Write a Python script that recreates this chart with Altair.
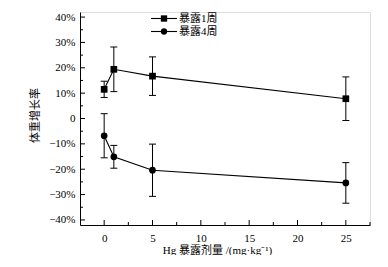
import altair as alt
import pandas as pd

doses = [0, 1, 5, 25]
week1_mean = [11.5, 19.4, 16.7, 7.8]
week1_err = [3.2, 8.8, 7.6, 8.6]
week4_mean = [-6.8, -15.1, -20.4, -25.4]
week4_err = [8.7, 4.5, 10.3, 8.0]
series_names = ["暴露1周", "暴露4周"]
y_ticks = [-40, -30, -20, -10, 0, 10, 20, 30, 40]
y_minor = [-35, -25, -15, -5, 5, 15, 25, 35]
x_ticks = [0, 5, 10, 15, 20, 25]
x_minor = [2.5, 7.5, 12.5, 17.5, 22.5, 27.5]

rows = []
for name, means, errs in [(series_names[0], week1_mean, week1_err),
                          (series_names[1], week4_mean, week4_err)]:
    for d, m, e in zip(doses, means, errs):
        rows.append({"dose": d, "mean": m, "lo": m - e, "hi": m + e, "series": name})
df = pd.DataFrame(rows)

FONT = "Liberation Serif, Times New Roman, Noto Sans CJK SC"
xscale = alt.Scale(domain=[-2.5, 27.5], nice=False, zero=False)
yscale = alt.Scale(domain=[-42, 42], nice=False, zero=False)

xaxis = alt.Axis(values=x_ticks, ticks=False, grid=False, domainColor="black",
                 labelFont=FONT, labelFontSize=11, labelColor="black", labelPadding=7,
                 title="Hg 暴露剂量 /(mg·kg⁻¹)", titleFont=FONT, titleFontSize=11,
                 titleFontWeight="normal", titleColor="black", titleX=137, titleY=25,
                 titleBaseline="middle")
yaxis = alt.Axis(values=y_ticks, ticks=False, grid=False, domainColor="black",
                 labelFont=FONT, labelFontSize=11, labelColor="black", labelPadding=5,
                 labelExpr="datum.value == 0 ? '0' : replace(format(datum.value, 'd'), '-', '−') + '%'",
                 title="体重增长率", titleFont=FONT, titleFontSize=11,
                 titleFontWeight="normal", titleColor="black", titleX=-45, titleY=103,
                 titleBaseline="middle")


def X(field):
    return alt.X(field, scale=xscale, axis=xaxis)


def Y(field):
    return alt.Y(field, scale=yscale, axis=yaxis)


base = alt.Chart(df)

lines = base.mark_line(color="black", strokeWidth=1.1).encode(
    x=X("dose:Q"), y=Y("mean:Q"), detail="series:N")
err = base.mark_rule(color="black", strokeWidth=1).encode(
    x=X("dose:Q"), y=Y("lo:Q"), y2="hi:Q")
cap_hi = base.mark_tick(orient="horizontal", color="black", size=7, thickness=1, opacity=1).encode(
    x=X("dose:Q"), y=Y("hi:Q"))
cap_lo = base.mark_tick(orient="horizontal", color="black", size=7, thickness=1, opacity=1).encode(
    x=X("dose:Q"), y=Y("lo:Q"))
points = base.mark_point(filled=True, color="black", opacity=1, size=45).encode(
    x=X("dose:Q"), y=Y("mean:Q"),
    shape=alt.Shape("series:N", scale=alt.Scale(domain=series_names, range=["square", "circle"]), legend=None),
)

# inward ticks
ymaj = alt.Chart(pd.DataFrame({"v": y_ticks})).mark_rule(color="black", strokeWidth=1).encode(
    y=Y("v:Q"), x=alt.value(0), x2=alt.value(5))
ymin = alt.Chart(pd.DataFrame({"v": y_minor})).mark_rule(color="black", strokeWidth=1).encode(
    y=Y("v:Q"), x=alt.value(0), x2=alt.value(3))
xmaj = alt.Chart(pd.DataFrame({"v": x_ticks})).mark_rule(color="black", strokeWidth=1).encode(
    x=X("v:Q"), y=alt.value(213), y2=alt.value(208))
xmin = alt.Chart(pd.DataFrame({"v": x_minor})).mark_rule(color="black", strokeWidth=1).encode(
    x=X("v:Q"), y=alt.value(213), y2=alt.value(210))

# legend
leg_layers = []
for name, shape, ly in [(series_names[0], "square", 6.5), (series_names[1], "circle", 19.5)]:
    ldf = pd.DataFrame({"series": [name]})
    leg_layers.append(alt.Chart(ldf).mark_rule(color="black", strokeWidth=1.1).encode(
        x=alt.value(71), x2=alt.value(97), y=alt.value(ly)))
    leg_layers.append(alt.Chart(ldf).mark_point(filled=True, color="black", opacity=1, size=40, shape=shape).encode(
        x=alt.value(84), y=alt.value(ly)))
    leg_layers.append(alt.Chart(ldf).mark_text(align="left", baseline="middle", font=FONT, fontSize=11, color="black").encode(
        x=alt.value(99), y=alt.value(ly), text="series:N"))

chart = alt.layer(lines, err, cap_hi, cap_lo, points, ymaj, ymin, xmaj, xmin, *leg_layers).properties(
    width=290, height=213,
    autosize=alt.AutoSizeParams(type="none"),
    padding={"left": 72, "top": 4, "right": 8, "bottom": 30},
).configure_view(stroke=None).configure(background="white")

chart.save("out.html", embed_options={"renderer": "svg", "actions": False})
